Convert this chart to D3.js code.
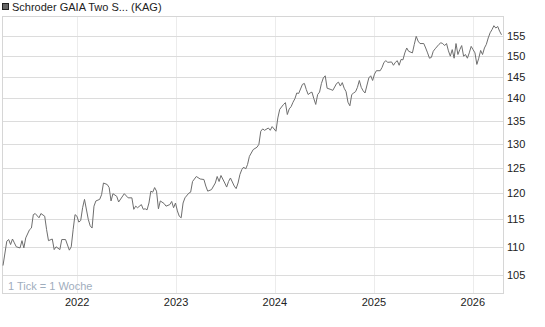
<!DOCTYPE html>
<html>
<head>
<meta charset="utf-8">
<script src="https://cdn.jsdelivr.net/npm/d3@7"></script>
<style>
body { margin: 0; background: #fff; }
svg { font-family: "Liberation Sans", Arial, sans-serif; }
</style>
</head>
<body>
<div id="viz"></div>
<script>
// weekly quotes, week number counted from the first quote
startDate = "2021-04-02";
weeks = [0,2,3,4,5,6,7,9,10,11,12,14,15,16,17,19,20,22,23,24,26,27,28,30,31,33,35,36,37,38,39,40,41,42,43,45,46,47,48,49,51,52,53,55,56,57,58,60,61,64,66,68,69,70,71,73,74,75,76,77,78,79,80,81,82,83,85,86,88,89,90,91,92,93,94,95,96,98,99,100,101,102,104,106,107,108,110,112,113,114,115,117,118,119,120,122,123,124,125,126,127,128,129,130,132,134,135,136,137,138,140,141,142,144,145,146,148,149,150,151,152,153,154,155,156,158,159,160,161,162,163,164,165,166,167,168,169,170,171,173,174,176,177,178,179,180,181,182,183,184,185,186,187,188,189,190,191,193,194,195,196,197,199,200,201,202,203,205,206,207,208,209,210,211,212,213,214,216,217,218,219,220,222,223,224,225,226,227,228,230,231,232,233,234,235,236,237,238,239,240,241,242,243,244,245,246,247,248,249,250,251,252,253,254,255,256,257,258,259,260,261,262,263];
prices = [106.7,111.0,111.3,110.4,111.4,110.7,110.0,109.8,111.1,109.8,111.6,113.1,113.4,115.9,116.1,115.3,116.1,115.6,113.1,111.1,111.4,109.5,110.0,109.5,111.3,111.3,109.4,110.0,113.1,115.9,115.6,114.5,114.8,117.2,118.8,115.0,113.8,113.4,117.5,118.5,118.8,119.7,122.0,121.7,121.1,118.5,119.9,119.4,118.3,119.9,119.1,119.1,116.9,117.5,117.2,117.8,116.9,117.0,116.8,118.1,120.4,120.2,121.1,120.4,117.0,118.5,118.0,117.5,117.8,118.4,117.2,118.1,116.6,115.6,115.3,118.1,119.1,120.0,120.2,122.3,122.8,123.3,122.8,122.7,121.4,120.4,120.7,122.0,123.3,122.3,123.5,122.0,121.2,122.3,123.0,121.4,120.9,122.0,123.7,124.7,125.2,124.8,125.7,127.4,128.8,129.3,129.9,132.7,133.2,132.9,133.4,132.9,133.7,132.7,135.6,137.5,138.6,139.0,136.35,137.6,138.1,139.1,139.9,141.2,141.1,143.2,143.4,142.0,140.85,141.2,141.4,139.9,138.6,140.85,141.4,143.4,144.7,145.2,142.3,142.0,141.8,143.4,143.7,142.8,143.6,142.3,141.5,139.1,138.3,140.85,141.2,141.5,142.5,144.1,142.5,141.7,141.2,144.7,145.2,144.1,145.6,146.4,146.4,147.2,148.4,148.8,148.4,148.5,147.7,148.4,148.8,147.7,149.1,149.0,150.7,151.9,151.1,150.7,152.8,154.8,153.6,153.0,153.0,151.9,150.7,149.4,149.6,151.1,151.7,152.8,153.2,153.0,152.5,153.0,151.2,149.9,151.5,149.4,153.0,150.3,151.5,152.5,149.9,150.3,149.4,150.7,152.3,151.5,150.7,147.9,149.4,151.3,150.3,151.9,152.8,154.4,155.7,156.5,157.5,156.9,157.3,156.1,155.2];
yTicks = [105,110,115,120,125,130,135,140,145,150,155];
xTicks = ["2022","2023","2024","2025","2026"];
title = "Schroder GAIA Two S... (KAG)";
note = "1 Tick = 1 Woche";

width = 545;
height = 327;
left = 2.5;
right = 503.5;
top_ = 16.5;
bottom = 293.5;

parseDate = d3.timeParse("%Y-%m-%d");
start = parseDate(startDate);
data = weeks.map(function(w, i) { return {date: d3.timeDay.offset(start, 7*w), value: prices[i]}; });

svg = d3.select("#viz").append("svg")
	.attr("width", width)
	.attr("height", height);

var x = d3.scaleTime()
	.domain(d3.extent(data, function(d) { return d.date; }))
	.range([3, 501.5]);

var y = d3.scaleLog()
	.domain([102, 160])
	.range([293.3, 16]);

// vertical grid (years)
svg.append("g").selectAll("line").data(xTicks).enter().append("line")
	.attr("x1", function(d) { return Math.round(x(parseDate(d + "-01-01"))) + 0.5; })
	.attr("x2", function(d) { return Math.round(x(parseDate(d + "-01-01"))) + 0.5; })
	.attr("y1", top_)
	.attr("y2", bottom)
	.attr("stroke", "#ececec")
	.attr("stroke-width", 1);

// horizontal grid
svg.append("g").selectAll("line").data(yTicks).enter().append("line")
	.attr("x1", left)
	.attr("x2", right)
	.attr("y1", function(d) { return Math.round(y(d)) + 0.5; })
	.attr("y2", function(d) { return Math.round(y(d)) + 0.5; })
	.attr("stroke", "#dcdcdc")
	.attr("stroke-width", 1);

// frame
svg.append("rect")
	.attr("x", left)
	.attr("y", top_)
	.attr("width", right - left)
	.attr("height", bottom - top_)
	.attr("fill", "none")
	.attr("stroke", "#d6d6d6");

var line = d3.line()
	.x(function(d) { return x(d.date); })
	.y(function(d) { return y(d.value); });

svg.append("path").datum(data)
	.attr("d", line)
	.attr("fill", "none")
	.attr("stroke", "#6e6e6e")
	.attr("stroke-width", 1)
	.attr("stroke-linejoin", "round");

// right axis labels
svg.append("g").selectAll("text").data(yTicks).enter().append("text")
	.attr("x", 507)
	.attr("y", function(d) { return y(d); })
	.attr("dy", "0.36em")
	.style("font-size", "11px")
	.attr("fill", "#222")
	.text(function(d) { return d; });

// year labels
svg.append("g").selectAll("text").data(xTicks).enter().append("text")
	.attr("x", function(d) { return x(parseDate(d + "-01-01")); })
	.attr("y", 306)
	.attr("text-anchor", "middle")
	.style("font-size", "11px")
	.attr("fill", "#222")
	.text(function(d) { return d; });

svg.append("text")
	.attr("x", 8)
	.attr("y", 290)
	.style("font-size", "11px")
	.attr("fill", "#9fadbd")
	.text(note);

// legend
svg.append("rect")
	.attr("x", 2.5)
	.attr("y", 3.5)
	.attr("width", 6)
	.attr("height", 6)
	.attr("fill", "#666")
	.attr("stroke", "#222");

svg.append("text")
	.attr("x", 12)
	.attr("y", 10.5)
	.style("font-size", "11px")
	.attr("fill", "#222")
	.text(title);
</script>
</body>
</html>
